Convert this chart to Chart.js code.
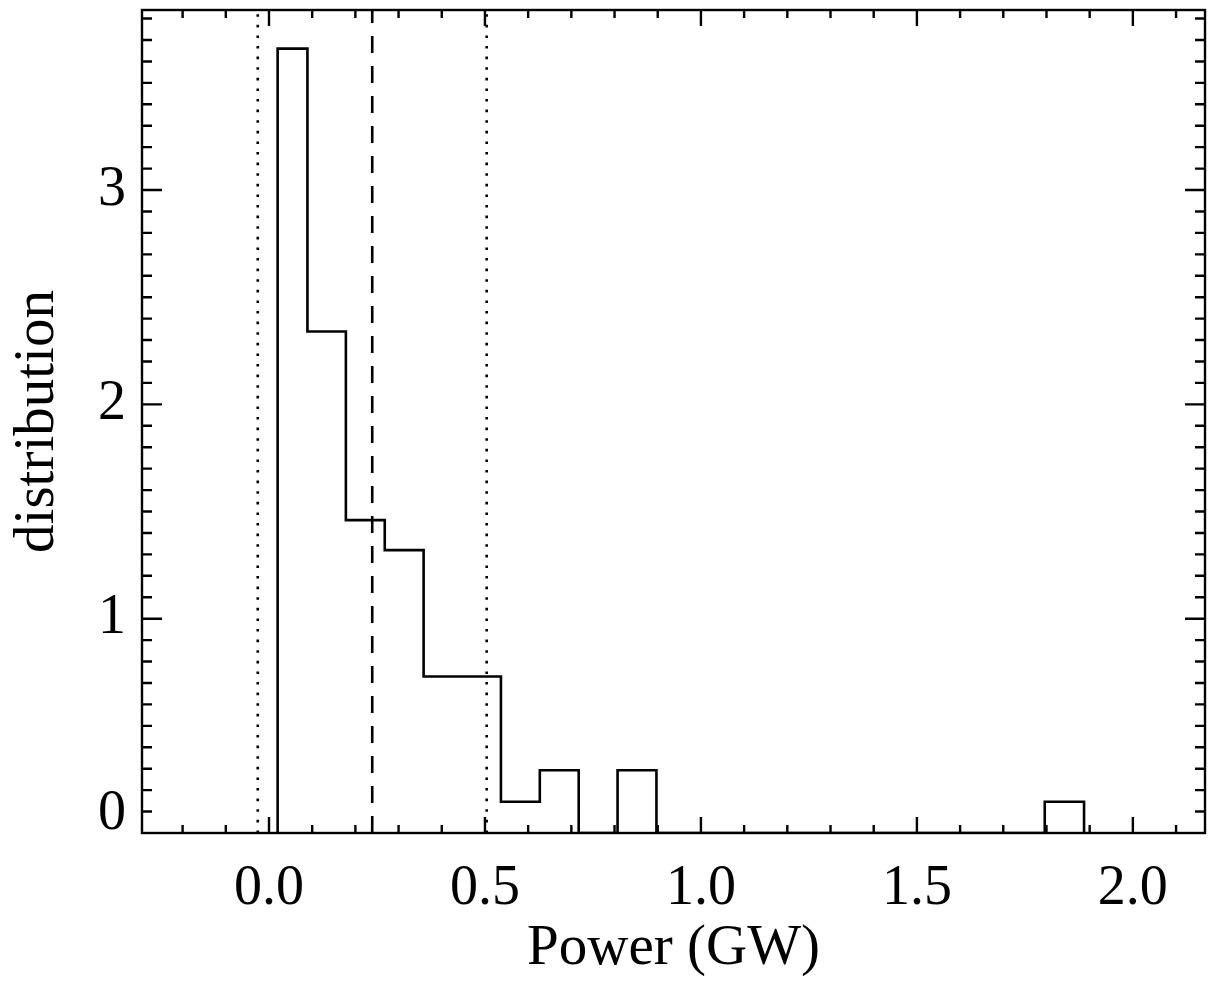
<!DOCTYPE html>
<html lang="en">
<head>
<meta charset="UTF-8">
<title>Power distribution</title>
<script src="https://cdn.jsdelivr.net/npm/chart.js"></script>
<style>
  body { margin: 0; background: #fff; }
  #chartContainer { width: 1208px; height: 981px; position: relative; }
</style>
</head>
<body>
<div id="chartContainer"><canvas id="myChart"></canvas></div>
<script>
// histogram bin edges (GW) and heights
const binEdges = [0.020, 0.089, 0.178, 0.268, 0.358, 0.447, 0.537, 0.627, 0.717, 0.807, 0.897, 1.796, 1.887];
const binHeights = [3.66, 2.34, 1.46, 1.32, 0.73, 0.73, 0.146, 0.293, 0, 0.293, 0, 0.146];
// vertical reference lines
const dottedLines = [-0.026, 0.504];
const dashedLine = 0.239;
const xRange = [-0.294, 2.167];
const yRange = [0, 3.84];
const xTicks = [0.0, 0.5, 1.0, 1.5, 2.0];
const yTicks = [0, 1, 2, 3];

const serif = "'Liberation Serif', 'Times New Roman', serif";

// step outline of the histogram
const histPoints = [{ x: binEdges[0], y: 0 }];
binHeights.forEach((h, i) => histPoints.push({ x: binEdges[i], y: h }));
histPoints.push({ x: binEdges[binEdges.length - 1], y: binHeights[binHeights.length - 1] });
histPoints.push({ x: binEdges[binEdges.length - 1], y: 0 });

function vline(x) {
    return [{ x: x, y: yRange[0] }, { x: x, y: yRange[1] }];
}

// box with inward ticks on all four sides
const framePlugin = {
    id: 'frame',
    afterDatasetsDraw(chart) {
        const ctx = chart.ctx;
        const a = chart.chartArea;
        const xs = chart.scales.x, ys = chart.scales.y;
        ctx.save();
        ctx.strokeStyle = '#000';
        ctx.lineWidth = 2.4;
        ctx.strokeRect(a.left, a.top, a.right - a.left, a.bottom - a.top);
        ctx.beginPath();
        for (let k = -2; k <= 21; k++) {
            const v = k / 10;
            const major = k % 5 === 0;
            const len = major ? 16 : 8;
            const px = xs.getPixelForValue(v);
            ctx.moveTo(px, a.bottom); ctx.lineTo(px, a.bottom - len);
            ctx.moveTo(px, a.top); ctx.lineTo(px, a.top + len);
        }
        for (let k = 1; k <= 38; k++) {
            const v = k / 10;
            const major = k % 10 === 0;
            const len = major ? 20 : 10;
            const py = ys.getPixelForValue(v);
            ctx.moveTo(a.left, py); ctx.lineTo(a.left + len, py);
            ctx.moveTo(a.right, py); ctx.lineTo(a.right - len, py);
        }
        ctx.stroke();
        ctx.restore();
    }
};

const ctx = document.getElementById('myChart').getContext('2d');
new Chart(ctx, {
    type: 'line',
    data: {
        datasets: [{
            data: histPoints,
            stepped: 'before',
            borderColor: '#000',
            borderWidth: 2.6,
            pointRadius: 0,
            fill: false
        }, {
            data: vline(dottedLines[0]),
            borderColor: '#000',
            borderWidth: 2.6,
            borderDash: [2.6, 8],
            pointRadius: 0
        }, {
            data: vline(dashedLine),
            borderColor: '#000',
            borderWidth: 2.6,
            borderDash: [17, 13],
            pointRadius: 0
        }, {
            data: vline(dottedLines[1]),
            borderColor: '#000',
            borderWidth: 2.6,
            borderDash: [2.6, 8],
            pointRadius: 0
        }]
    },
    options: {
        responsive: true,
        maintainAspectRatio: false,
        animation: false,
        layout: { padding: { top: 10, right: 3, left: 0, bottom: 0 } },
        plugins: {
            legend: { display: false },
            tooltip: { enabled: false }
        },
        scales: {
            x: {
                type: 'linear',
                min: xRange[0],
                max: xRange[1],
                afterBuildTicks: s => { s.ticks = xTicks.map(v => ({ value: v })); },
                afterFit: s => { s.height = 148; s.paddingLeft = 0; s.paddingRight = 0; },
                grid: { display: false, drawTicks: false },
                border: { display: false },
                ticks: {
                    color: '#000',
                    padding: 23,
                    maxRotation: 0,
                    font: { family: serif, size: 56 },
                    callback: v => v.toFixed(1)
                },
                title: {
                    display: true,
                    text: 'Power (GW)',
                    color: '#000',
                    font: { family: serif, size: 57, lineHeight: 1.1 },
                    padding: { top: 0, bottom: 1 }
                }
            },
            y: {
                type: 'linear',
                min: yRange[0],
                max: yRange[1],
                afterBuildTicks: s => { s.ticks = yTicks.map(v => ({ value: v })); },
                afterFit: s => { s.width = 142; s.paddingTop = 0; s.paddingBottom = 0; },
                grid: { display: false, drawTicks: false },
                border: { display: false },
                ticks: {
                    color: '#000',
                    padding: 16,
                    font: { family: serif, size: 56, lineHeight: 0.68 },
                    // the zero label sits just above the baseline
                    callback: v => v === 0 ? ['0', ''] : String(v)
                },
                title: {
                    display: true,
                    text: 'distribution',
                    color: '#000',
                    font: { family: serif, size: 57, lineHeight: 1.2 },
                    padding: { top: 4, bottom: 0 }
                }
            }
        }
    },
    plugins: [framePlugin]
});
</script>
</body>
</html>
